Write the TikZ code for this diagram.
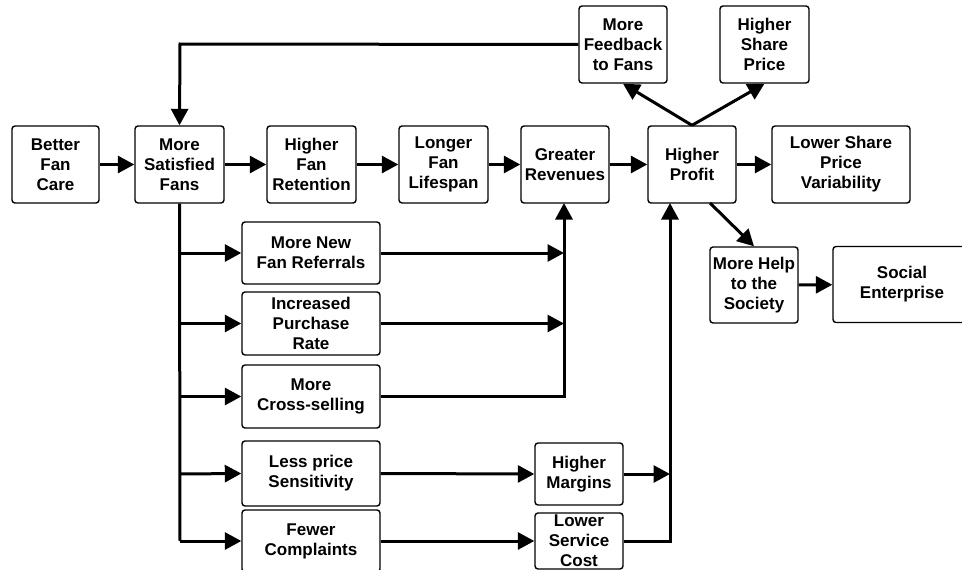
\documentclass[tikz,border=0pt]{standalone}
\usepackage{fontspec}
\setmainfont{Liberation Sans}
\usetikzlibrary{arrows.meta}
\tikzset{
  box/.style={draw, line width=1.4pt, rounded corners=3pt, align=center,
    font=\bfseries\fontsize{17}{20}\selectfont, inner sep=0pt},
  conn/.style={line width=3pt, -{Triangle[length=16.5pt,width=17pt]}},
  plain/.style={line width=3pt}
}
\newcommand{\bx}[6]{\node[box, minimum width=#4pt, minimum height=#5pt] (#1) at (#2,#3) {#6};}
\begin{document}
\begin{tikzpicture}[x=1pt,y=-1pt]
\clip (0,0) rectangle (962,570);
\fill[white] (0,0) rectangle (962,570);
% top row
\bx{bfc}{55.5}{164.5}{87}{77}{Better\\Fan\\Care}
\bx{msf}{179.5}{164.5}{89}{77}{More\\Satisfied\\Fans}
\bx{hfr}{311.5}{164.5}{89}{77}{Higher\\Fan\\Retention}
\bx{lfl}{443.5}{164.5}{89}{77}{Longer\\Fan\\Lifespan}
\bx{gr}{565}{164.5}{88}{77}{Greater\\Revenues}
\bx{hp}{692}{164.5}{88}{77}{Higher\\Profit}
\bx{lspv}{841}{164.5}{138}{77}{Lower Share\\Price\\Variability}
\bx{mff}{623}{44.5}{88}{77}{More\\Feedback\\to Fans}
\bx{hsp}{764.5}{44.5}{89}{77}{Higher\\Share\\Price}
% middle column
\bx{mnfr}{311}{253}{138}{62}{More New\\Fan Referrals}
\bx{ipr}{311}{323.5}{138}{63}{Increased\\Purchase\\Rate}
\bx{mcs}{311}{396.5}{138}{63}{More\\Cross-selling}
\bx{lps}{311}{473.5}{138}{65}{Less price\\Sensitivity}
\bx{fc}{311}{541}{138}{62}{Fewer\\Complaints}
\bx{hm}{579}{474}{88}{62}{Higher\\Margins}
\bx{lsc}{579}{541}{88}{56}{Lower\\Service\\Cost}
\bx{mhs}{754}{285}{88}{76}{More Help\\to the\\Society}
\bx{se}{902}{284.5}{138}{76}{Social\\Enterprise}
% coordinates
\coordinate (fbturn) at (180,44);
\coordinate (trunkend) at (180,541);
\coordinate (rv1) at (564,253);
\coordinate (rv2) at (564,323.5);
\coordinate (rv3) at (564,396.5);
\coordinate (pv1) at (670,474);
\coordinate (pv2) at (670,541);
\coordinate (gb) at (564,203);
\coordinate (pb) at (670,203);
% main chain
\draw[conn] (bfc) -- (msf);
\draw[conn] (msf) -- (hfr);
\draw[conn] (hfr) -- (lfl);
\draw[conn] (lfl) -- (gr);
\draw[conn] (gr) -- (hp);
\draw[conn] (hp) -- (lspv);
\draw[conn] (hp.north) -- (mff.south);
\draw[conn] (hp.north) -- (hsp.south);
\draw[conn] (mff.west) -- (fbturn) -- (msf.north);
% trunk
\draw[plain] (msf.south) -- (trunkend);
\draw[conn] (180,253) -- (mnfr.west);
\draw[conn] (180,323.5) -- (ipr.west);
\draw[conn] (180,396.5) -- (mcs.west);
\draw[conn] (180,474) -- (lps.west);
\draw[conn] (trunkend) -- (fc.west);
% to revenues
\draw[conn] (mnfr.east) -- (rv1);
\draw[conn] (ipr.east) -- (rv2);
\draw[conn] (mcs.east) -- (rv3) -- (gb);
% to profit
\draw[conn] (lps.east) -- (hm.west);
\draw[conn] (fc.east) -- (lsc.west);
\draw[conn] (hm.east) -- (pv1);
\draw[conn] (lsc.east) -- (pv2) -- (pb);
% society
\draw[conn] (710,203) -- (mhs.north);
\draw[conn] (mhs) -- (se);
\end{tikzpicture}
\end{document}
